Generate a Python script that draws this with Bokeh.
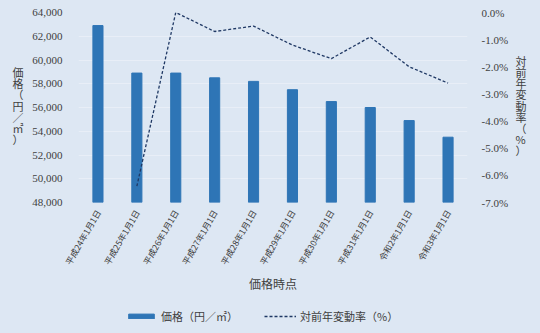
from bokeh.plotting import figure
from bokeh.models import (Range1d, LinearAxis, FixedTicker,
                          NumeralTickFormatter, PrintfTickFormatter, Legend, LegendItem)
from bokeh.layouts import column
from bokeh.embed import file_html
from bokeh.resources import INLINE
import math

categories = ["平成24年1月1日", "平成25年1月1日", "平成26年1月1日", "平成27年1月1日",
              "平成28年1月1日", "平成29年1月1日", "平成30年1月1日", "平成31年1月1日",
              "令和2年1月1日", "令和3年1月1日"]
price = [62900, 58900, 58900, 58500, 58200, 57500, 56500, 56000, 54900, 53500]
rate_cats = categories[1:]
rate = [-6.4, 0.0, -0.7, -0.5, -1.2, -1.7, -0.9, -2.0, -2.6]

left_ticks = list(range(48000, 64001, 2000))
right_ticks = [0, -1, -2, -3, -4, -5, -6, -7]
left_title = "価格（円／㎡）"
right_title = "対前年変動率（%）"
x_title = "価格時点"

BG = "#dde7f3"
BAR = "#2e75b6"
LINE = "#1f3864"
CJK = "Noto Sans CJK JP"
NUM = "Liberation Serif"
TXT = "#404040"

p = figure(width=540, height=300, x_range=categories, y_range=Range1d(48000, 64000),
           output_backend="svg", toolbar_location=None,
           min_border_left=78, min_border_right=73, min_border_top=12, min_border_bottom=98)
p.background_fill_color = BG
p.border_fill_color = BG
p.outline_line_color = None

bars = p.vbar(x=categories, top=price, width=0.26, bottom=48000, color=BAR)

p.extra_y_ranges = {"rate": Range1d(-7, 0), "lab": Range1d(0, 1)}
ln = p.line(x=rate_cats, y=rate, y_range_name="rate", line_color=LINE,
            line_width=1.3, line_dash="3 2")

ax_r = LinearAxis(y_range_name="rate", ticker=FixedTicker(ticks=right_ticks),
                  formatter=PrintfTickFormatter(format="%.1f%%"))
p.add_layout(ax_r, "right")

p.yaxis[0].ticker = FixedTicker(ticks=left_ticks)
p.yaxis[0].formatter = NumeralTickFormatter(format="0,0")

for ax in p.yaxis:
    ax.axis_line_color = None
    ax.major_tick_line_color = None
    ax.minor_tick_line_color = None
    ax.major_label_text_font = NUM
    ax.major_label_text_font_size = "11px"
    ax.major_label_text_color = TXT
    ax.major_label_standoff = 10
ax_r.major_label_standoff = 8

# upright vertical axis titles via a single-tick label axis
def title_axis(text, y, side, standoff):
    a = LinearAxis(y_range_name="lab", ticker=FixedTicker(ticks=[y]),
                   major_label_overrides={y: "\n".join(text)})
    a.axis_line_color = None
    a.major_tick_line_color = None
    a.minor_tick_line_color = None
    a.major_label_text_font = CJK
    a.major_label_text_font_size = "11px"
    a.major_label_text_color = TXT
    a.major_label_text_line_height = 0.7
    a.major_label_standoff = standoff
    p.add_layout(a, side)

title_axis(left_title, 0.51, "left", 0)
title_axis(right_title, 0.51, "right", -2)

xa = p.xaxis[0]
xa.axis_line_color = None
xa.major_tick_line_color = None
xa.major_label_orientation = math.radians(60)
xa.major_label_text_font = CJK
xa.major_label_text_font_size = "8.5px"
xa.major_label_text_color = TXT
xa.major_label_standoff = 2
xa.axis_label = x_title
xa.axis_label_text_font = CJK
xa.axis_label_text_font_style = "normal"
xa.axis_label_text_font_size = "12px"
xa.axis_label_text_color = TXT
xa.axis_label_standoff = 2

p.xgrid.grid_line_color = None
p.ygrid.grid_line_color = "#e8eef7"
p.ygrid.grid_line_width = 1

# legend strip (frame aligned with the main plot's frame)
lg = figure(width=540, height=33, x_range=(0, 1), y_range=(0, 1),
            output_backend="svg", toolbar_location=None,
            min_border_left=78, min_border_right=73,
            min_border_top=0, min_border_bottom=0)
lg.axis.visible = False
lg.grid.visible = False
lg.background_fill_color = BG
lg.border_fill_color = BG
lg.outline_line_color = None
sw_bar = lg.vbar(x=[0.5], top=[0], bottom=[0], width=0.0, color=BAR)
sw_line = lg.line(x=[0.5, 0.5], y=[-2, -2], line_color=LINE, line_width=1.3, line_dash="3 2")
legend = Legend(items=[LegendItem(label=left_title, renderers=[sw_bar]),
                       LegendItem(label=right_title, renderers=[sw_line])],
                orientation="horizontal", location=(47, 9),
                background_fill_alpha=0, border_line_color=None,
                label_text_font=CJK, label_text_font_size="11px", label_text_color=TXT,
                glyph_width=32, glyph_height=6, spacing=26, padding=2, margin=0,
                label_standoff=4)
lg.add_layout(legend, "center")

layout = column(p, lg, spacing=0, styles={"background-color": BG})
open("out.html", "w").write(file_html(layout, INLINE))
